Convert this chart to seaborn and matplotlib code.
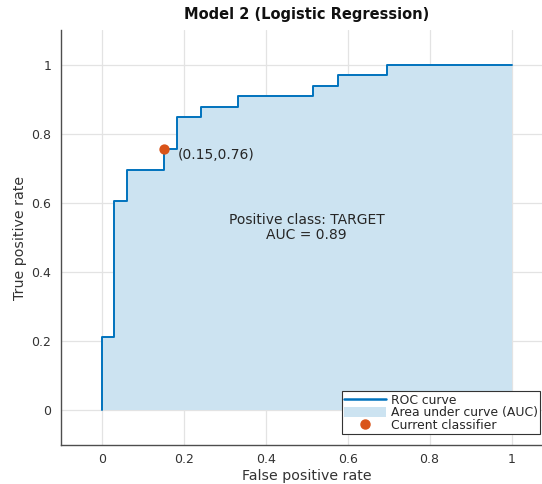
import numpy as np
import pandas as pd
import matplotlib
matplotlib.use("Agg")
import matplotlib.pyplot as plt
import seaborn as sns
from matplotlib.lines import Line2D
from matplotlib.patches import Patch

# ROC staircase (false positive rate, true positive rate)
fpr = [0.0, 0.0, 0.030, 0.030, 0.061, 0.061, 0.152, 0.152, 0.182, 0.182,
       0.242, 0.242, 0.333, 0.333, 0.515, 0.515, 0.576, 0.576, 0.697, 0.697, 1.0]
tpr = [0.0, 0.212, 0.212, 0.606, 0.606, 0.697, 0.697, 0.758, 0.758, 0.848,
       0.848, 0.879, 0.879, 0.909, 0.909, 0.939, 0.939, 0.970, 0.970, 1.0, 1.0]
op_fpr = [0.1515]
op_tpr = [0.7576]
op_label = "(0.15,0.76)"
auc_text = "Positive class: TARGET\nAUC = 0.89"
title = "Model 2 (Logistic Regression)"
ticks = [0, 0.2, 0.4, 0.6, 0.8, 1]
tick_labels = ["0", "0.2", "0.4", "0.6", "0.8", "1"]

sns.set_theme(style="whitegrid")
plt.rcParams['font.family'] = ['DejaVu Sans']

line_c = "#0072BD"
fill_c = "#CCE3F1"
pt_c = "#D95319"
txt_c = "#333333"
spine_c = "#4d4d4d"

fig = plt.figure(figsize=(5.42, 4.84), dpi=100)
ax = fig.add_axes([61/542, 39/484, (552.5-61)/542, (445-30.4)/484])

df = pd.DataFrame({"fpr": fpr, "tpr": tpr})
ax.fill_between(df["fpr"], 0, df["tpr"], color=fill_c, linewidth=0, zorder=1)
sns.lineplot(data=df, x="fpr", y="tpr", sort=False, estimator=None, ax=ax,
             color=line_c, linewidth=1.4, zorder=3)
opdf = pd.DataFrame({"x": op_fpr, "y": op_tpr})
sns.scatterplot(data=opdf, x="x", y="y", ax=ax, color=pt_c, s=55,
                edgecolor=pt_c, linewidth=0, zorder=4)

ax.text(0.185, 0.74, op_label, fontsize=10, color="#262626", va="center", ha="left")
ax.text(0.5, 0.53, auc_text, fontsize=10, color="#262626", va="center", ha="center",
        linespacing=1.05)

ax.set_xlim(-0.1, 1.1)
ax.set_ylim(-0.1, 1.1)
ax.set_xticks(ticks)
ax.set_xticklabels(tick_labels)
ax.set_yticks(ticks)
ax.set_yticklabels(tick_labels)
ax.grid(True, color="#e3e3e3", linewidth=0.9)
ax.set_axisbelow(True)
for s in ["top", "right"]:
    ax.spines[s].set_visible(False)
for s in ["left", "bottom"]:
    ax.spines[s].set_color(spine_c)
    ax.spines[s].set_linewidth(1.0)
ax.tick_params(direction="in", length=4, width=0.8, color=spine_c,
               labelsize=9, labelcolor=txt_c)
ax.tick_params(axis="x", pad=6)
ax.tick_params(axis="y", pad=7)
ax.set_xlabel("False positive rate", fontsize=10.2, color=txt_c, labelpad=2)
ax.set_ylabel("True positive rate", fontsize=10.2, color=txt_c, labelpad=3)
ax.set_title(title, fontsize=10.5, fontweight="bold", color="#111111", pad=8)

handles = [Line2D([], [], color=line_c, linewidth=1.8),
           Patch(facecolor=fill_c, edgecolor="none"),
           Line2D([], [], color=pt_c, marker="o", linestyle="none", markersize=6.5)]
labels = ["ROC curve", "Area under curve (AUC)", "Current classifier"]
leg = ax.legend(handles, labels, loc="lower right",
                bbox_to_anchor=(1.0 - (552.5-540)/(552.5-61), (445-434)/(445-30.4)),
                fontsize=8.9, frameon=True, fancybox=False, framealpha=1,
                edgecolor="#333333", handlelength=3.4, handleheight=0.8,
                labelspacing=-0.05, borderpad=0.2, handletextpad=0.35,
                borderaxespad=0)
leg.get_frame().set_linewidth(0.8)
for t in leg.get_texts():
    t.set_color("#262626")

fig.savefig("out.png", dpi=100)
